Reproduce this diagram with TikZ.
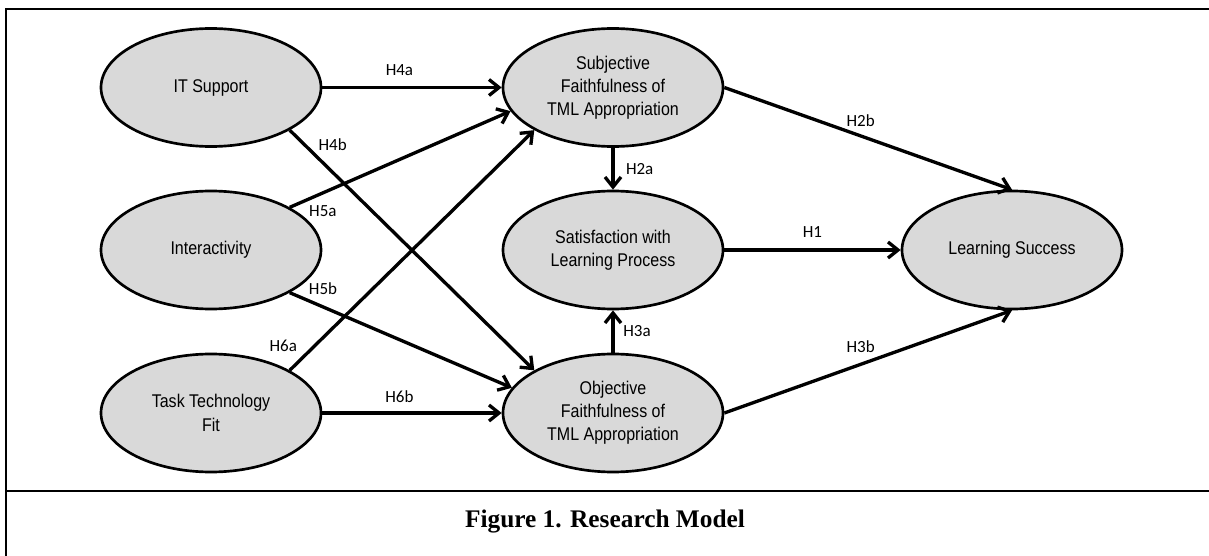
\documentclass[tikz,border=0pt]{standalone}
\usepackage{fontspec}
\newfontfamily\constructfont[FakeStretch=0.87]{Liberation Sans}
\newfontfamily\hypfont{Carlito}
\newfontfamily\captionfont{Liberation Serif}
\usetikzlibrary{arrows.meta, shapes.geometric, positioning}
\definecolor{constructgray}{HTML}{D9D9D9}

\begin{document}
\begin{tikzpicture}[x=0.75pt, y=-0.75pt,
    construct/.style={ellipse, draw, line width=2pt, fill=constructgray,
      minimum width=165pt, minimum height=88.5pt, inner sep=0pt, align=center,
      font=\constructfont\fontsize{13.8}{17.4}\selectfont},
    hyp/.style={-{Straight Barb[length=7.5pt,width=12pt]}, line width=2.5pt},
    hyplabel/.style={font=\hypfont\fontsize{12.75}{14}\selectfont, inner sep=1pt},
    frame/.style={line width=1.7pt}]
        \useasboundingbox (0,0) rectangle (1209,556);
        % Frame and caption
        \draw[frame] (6,556) -- (6,9) -- (1209,9);
        \draw[frame] (6,491) -- (1209,491);
        \node[font=\captionfont\bfseries\fontsize{19}{22}\selectfont] (caption) at (605,522) {Figure 1. Research Model};
        % Constructs
        \node[construct] (itsup) at (211,87.5) {IT Support};
        \node[construct] (inter) at (211,250) {Interactivity};
        \node[construct] (ttf) at (211,413) {Task Technology\\Fit};
        \node[construct] (subj) at (613,87.5) {Subjective\\Faithfulness of\\TML Appropriation};
        \node[construct] (sat) at (613,250) {Satisfaction with\\Learning Process};
        \node[construct] (obj) at (613,413) {Objective\\Faithfulness of\\TML Appropriation};
        \node[construct] (learn) at (1012,250) {Learning Success};
        % Hypotheses
        \draw[hyp] (itsup) -- node[hyplabel, pos=0.43, above=7pt] {H4a} (subj);
        \draw[hyp] (itsup.south east) -- node[hyplabel, pos=0.06, anchor=west, xshift=8.4pt] {H4b} (obj.north west);
        \draw[hyp] (inter.north east) -- node[hyplabel, pos=0.15, below=7pt] {H5a} (subj.193);
        \draw[hyp] (inter.south east) -- node[hyplabel, pos=0.15, above=7pt] {H5b} (obj.166);
        \draw[hyp] (ttf.north east) -- node[hyplabel, pos=0.1, left=10.7pt] {H6a} (subj.south west);
        \draw[hyp] (ttf) -- node[hyplabel, pos=0.43, above=5.5pt] {H6b} (obj);
        \draw[hyp] (subj) -- node[hyplabel, right=7.5pt] {H2a} (sat);
        \draw[hyp] (obj) -- node[hyplabel, right=5.5pt] {H3a} (sat);
        \draw[hyp] (sat) -- node[hyplabel, above=7pt] {H1} (learn);
        \draw[hyp] (subj.east) -- node[hyplabel, pos=0.474, above=5pt] {H2b} (learn.north);
        \draw[hyp] (obj.east) -- node[hyplabel, pos=0.474, above=6.5pt] {H3b} (learn.south);
\end{tikzpicture}
\end{document}
